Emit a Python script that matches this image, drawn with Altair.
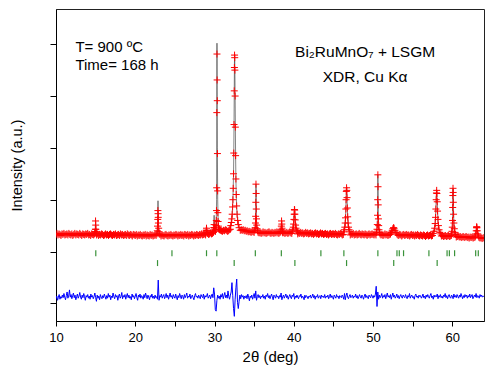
import altair as alt
import pandas as pd

# ---------------- data ----------------
# Observed background (step 0.125 deg), one row per 5 deg, starting at 10, 15, ... 60
BG_STEP = 0.125
bg_rows = [
    [133, 135, 132, 134, 133, 131, 134, 133, 135, 132, 133, 134, 132, 135, 133, 132, 134, 131, 133, 135,
     132, 134, 133, 132, 135, 133, 131, 134, 133, 132, 134, 133, 135, 132, 133, 131, 134, 133, 132, 134],
    [133, 132, 134, 131, 133, 132, 134, 133, 131, 132, 134, 132, 133, 131, 133, 134, 132, 131, 133, 132,
     134, 131, 132, 133, 131, 134, 132, 133, 131, 132, 133, 131, 134, 132, 131, 133, 132, 130, 133, 132],
    [131, 133, 130, 132, 131, 133, 131, 130, 132, 131, 133, 130, 132, 131, 130, 133, 131, 132, 130, 131,
     133, 131, 130, 132, 131, 133, 130, 132, 131, 130, 132, 133, 131, 130, 132, 131, 133, 131, 130, 132],
    [131, 133, 132, 130, 132, 131, 133, 131, 132, 130, 133, 132, 131, 133, 130, 132, 131, 133, 132, 130,
     132, 131, 133, 132, 131, 133, 132, 134, 132, 133, 134, 132, 133, 135, 133, 134, 136, 134, 135, 137],
    [138, 139, 140, 141, 140, 142, 141, 140, 139, 141, 140, 142, 141, 139, 140, 142,
     143, 144, 145, 146, 147, 146, 145, 146, 145, 144, 143, 142, 141, 142, 140, 141,
     139, 140, 138, 139, 138, 137, 139, 138],
    [137, 136, 138, 135, 137, 136, 137, 135, 136, 138, 136, 137, 135, 136, 137, 138, 136, 135, 137, 136,
     135, 137, 136, 138, 136, 135, 137, 136, 138, 136, 137, 135, 136, 137, 135, 136, 138, 136, 135, 137],
    [136, 135, 137, 136, 134, 136, 135, 137, 135, 136, 134, 135, 137, 135, 136, 134, 135, 136, 134, 135,
     133, 135, 136, 134, 135, 133, 134, 136, 134, 135, 133, 134, 135, 133, 134, 132, 134, 135, 133, 134],
    [134, 133, 135, 133, 132, 134, 133, 135, 134, 132, 133, 134, 133, 135, 132, 134, 133, 132, 134, 133,
     135, 132, 133, 134, 132, 133, 135, 133, 132, 134, 133, 132, 134, 133, 131, 133, 134, 132, 133, 134],
    [133, 132, 134, 132, 133, 131, 133, 134, 132, 133, 131, 132, 134, 132, 133, 131, 132, 133, 131, 134,
     132, 133, 131, 132, 134, 132, 131, 133, 132, 130, 132, 133, 131, 132, 133, 131, 132, 130, 132, 133],
    [131, 132, 130, 132, 131, 133, 131, 130, 132, 131, 130, 132, 131, 129, 131, 132, 130, 131, 132, 130,
     131, 129, 131, 132, 130, 131, 129, 130, 132, 130, 131, 129, 130, 131, 129, 130, 131, 129, 130, 131],
    [130, 128, 129, 130, 128, 129, 130, 128, 129, 127, 128, 129, 127, 128, 129, 127, 128, 126, 128, 127,
     128, 126, 127, 128, 126, 127, 125, 127, 126, 127, 125, 126, 127],
]
bg_row_start = [10, 15, 20, 25, 30, 35, 40, 45, 50, 55, 60]

# Observed peaks (2theta, intensity)
p150 = [(14.92, 135), (14.95, 138), (14.97, 143), (14.99, 159), (15.01, 151), (15.03, 143), (15.05, 138), (15.08, 135)]
p229 = [(22.74, 134), (22.78, 140), (22.81, 149), (22.84, 162), (22.86, 179), (22.88, 173), (22.90, 166),
        (22.92, 155), (22.95, 145), (22.98, 138), (23.02, 134)]
p290 = [(28.92, 136), (28.96, 141), (28.99, 145), (29.02, 141), (29.06, 136)]
p300 = [(29.88, 140), (29.92, 146), (29.95, 152), (29.98, 146), (30.02, 143)]
p303 = [(30.16, 143), (30.20, 150), (30.23, 160), (30.25, 179), (30.27, 223), (30.29, 368), (30.31, 481),
        (30.33, 431), (30.35, 391), (30.37, 289), (30.39, 217), (30.42, 175), (30.45, 158), (30.49, 149), (30.55, 143)]
p325 = [(32.05, 150), (32.12, 156), (32.18, 163), (32.23, 172), (32.28, 186), (32.32, 200), (32.36, 222),
        (32.40, 250), (32.43, 290), (32.46, 345), (32.49, 410), (32.51, 455), (32.53, 479), (32.55, 474),
        (32.57, 450), (32.60, 400), (32.63, 340), (32.66, 285), (32.70, 240), (32.74, 210), (32.79, 188),
        (32.85, 172), (32.92, 160), (33.00, 152), (33.10, 146), (33.25, 141)]
p352 = [(35.10, 141), (35.14, 146), (35.17, 155), (35.19, 168), (35.21, 195), (35.23, 230), (35.25, 212),
        (35.27, 182), (35.29, 163), (35.32, 151), (35.36, 144), (35.42, 140)]
p385 = [(38.36, 138), (38.40, 142), (38.43, 149), (38.46, 159), (38.49, 153), (38.52, 145), (38.56, 139), (38.62, 137)]
p401 = [(39.80, 139), (39.88, 142), (39.94, 147), (39.98, 153), (40.02, 162), (40.05, 172), (40.08, 181),
        (40.11, 180), (40.14, 172), (40.18, 161), (40.23, 151), (40.29, 145), (40.37, 141), (40.48, 138)]
p467 = [(46.30, 138), (46.38, 142), (46.44, 147), (46.49, 155), (46.53, 165), (46.57, 182), (46.60, 200),
        (46.63, 216), (46.66, 223), (46.69, 218), (46.72, 204), (46.76, 184), (46.80, 167), (46.85, 155),
        (46.91, 147), (46.98, 142), (47.08, 138)]
p506 = [(50.45, 137), (50.50, 143), (50.54, 152), (50.57, 170), (50.59, 200), (50.61, 248), (50.63, 225),
        (50.65, 190), (50.68, 163), (50.71, 150), (50.75, 142), (50.82, 137)]
p526 = [(52.20, 134), (52.32, 137), (52.42, 141), (52.50, 144), (52.58, 146), (52.66, 145), (52.76, 141),
        (52.88, 137), (53.00, 134)]
p580 = [(57.60, 135), (57.70, 139), (57.78, 145), (57.84, 154), (57.89, 166), (57.93, 182), (57.97, 200),
        (58.00, 213), (58.03, 218), (58.06, 212), (58.10, 196), (58.14, 178), (58.19, 162), (58.25, 150),
        (58.33, 142), (58.43, 137), (58.55, 134)]
p601 = [(59.90, 134), (59.96, 139), (60.00, 147), (60.03, 160), (60.05, 185), (60.07, 208), (60.09, 222),
        (60.11, 214), (60.13, 195), (60.16, 172), (60.20, 155), (60.25, 144), (60.32, 137), (60.42, 133)]
p631 = [(62.90, 130), (62.97, 134), (63.02, 140), (63.06, 146), (63.08, 148), (63.11, 146), (63.15, 140),
        (63.21, 134), (63.30, 130)]

# Calculated profile where it differs visibly from the observed one
c229 = [(22.74, 134), (22.80, 145), (22.84, 165), (22.87, 198), (22.90, 165), (22.94, 146), (23.02, 134)]
c300 = [(29.88, 141), (29.92, 152), (29.95, 170), (29.98, 150), (30.02, 143)]
c303 = [(30.16, 143), (30.22, 158), (30.26, 200), (30.29, 400), (30.31, 502), (30.33, 420), (30.36, 300),
        (30.40, 200), (30.46, 158), (30.55, 143)]

# Difference curve (step 0.1 deg), one row per 2 deg, starting at 10, 12, ... 62, then 64
DIFF_STEP = 0.1
diff_rows = [
    [9, 14, 6, 12, 17, 8, 13, 10, 16, 11, 19, 12, 7, 15, 22, 10, 14, 26, 12, 17],
    [9, 15, 20, 11, 16, 7, 13, 18, 10, 14, 21, 12, 8, 16, 11, 19, 13, 6, 15, 12],
    [17, 10, 14, 8, 18, 12, 15, 9, 13, 20, 11, 4, 16, 10, 14, 7, 17, 12, 9, 15],
    [11, 18, 13, 8, 15, 10, 19, 12, 16, 7, 14, 11, 20, 13, 9, 17, 12, 15, 6, 14],
    [18, 10, 13, 21, 9, 15, 12, 17, 8, 14, 19, 11, 16, 10, 13, 7, 18, 12, 15, 9],
    [14, 19, 11, 6, 16, 12, 18, 10, 15, 13, 8, 17, 11, 20, 14, 9, 16, 12, 7, 15],
    [12, 18, 10, 14, 9, 16, 11, 13, 8, 45, 6, 15, 12, 18, 10, 14, 17, 9, 13, 19],
    [11, 16, 8, 14, 20, 12, 15, 9, 17, 13, 10, 18, 12, 7, 15, 11, 19, 14, 9, 16],
    [13, 8, 17, 11, 15, 20, 10, 14, 12, 18, 9, 13, 16, 11, 7, 15, 19, 12, 14, 10],
    [16, 12, 9, 17, 13, 11, 18, 8, 15, 12, 14, 19, 10, 13, 16, 9, 14, 18, 11, 30],
    [18, -12, -15, 6, 16, 10, 14, 8, 17, 12, 19, 9, 15, 21, 11, 16, 10, 24, 13, 8],
    [16, 22, 40, 15, -10, -25, 8, 30, 47, 2, -10, 4, 16, 9, 17, 12, 15, 8, 14, 11],
    [15, 9, 18, 12, 5, 14, 11, 16, 8, 13, 19, 10, 24, 6, 13, 17, 11, 15, 9, 14],
    [12, 17, 10, 14, 8, 16, 13, 19, 11, 15, 9, 14, 18, 12, 7, 16, 13, 10, 17, 12],
    [14, 9, 15, 12, 20, 7, 13, 16, 10, 14, 18, 11, 15, 8, 13, 17, 12, 9, 16, 13],
    [19, 8, 14, 11, 16, 12, 9, 15, 13, 18, 10, 14, 12, 7, 16, 11, 15, 13, 9, 14],
    [12, 16, 10, 13, 18, 11, 15, 8, 14, 12, 17, 10, 13, 15, 9, 16, 12, 14, 11, 17],
    [10, 14, 12, 16, 9, 13, 18, 11, 15, 12, 8, 16, 13, 10, 17, 12, 14, 9, 15, 13],
    [11, 16, 13, 8, 19, 7, 15, 20, 12, 9, 14, 17, 11, 13, 16, 10, 14, 12, 18, 11],
    [15, 9, 13, 17, 12, 10, 16, 13, 8, 14, 18, 11, 15, 12, 9, 16, 13, 11, 17, 14],
    [10, 15, 12, 18, 33, -6, 22, 8, 16, 11, 14, 19, 10, 15, 12, 17, 9, 14, 20, 12],
    [15, 11, 17, 8, 14, 20, 12, 16, 10, 13, 18, 11, 15, 9, 14, 17, 12, 10, 16, 13],
    [11, 17, 13, 9, 15, 12, 19, 10, 14, 16, 11, 13, 8, 15, 18, 12, 14, 10, 16, 13],
    [15, 10, 13, 18, 11, 14, 9, 16, 12, 17, 13, 10, 15, 19, 11, 14, 8, 16, 12, 15],
    [13, 18, 9, 15, 12, 17, 11, 14, 10, 16, 13, 19, 11, 15, 9, 14, 17, 12, 10, 16],
    [14, 9, 18, 12, 15, 11, 17, 13, 10, 16, 12, 19, 14, 9, 15, 11, 17, 13, 16, 10],
    [15, 12, 18, 11, 14, 17, 9, 13, 16, 12, 19, 11, 15, 14, 10, 17, 13, 16, 12, 14],
    [13],
]
diff_row_start = [10, 12, 14, 16, 18, 20, 22, 24, 26, 28, 30, 32, 34, 36, 38, 40, 42, 44, 46, 48,
                  50, 52, 54, 56, 58, 60, 62, 64]

# Bragg reflection markers
phase1_ticks = [15.02, 24.63, 28.99, 30.29, 35.15, 38.43, 43.42, 46.32, 50.61, 53.02, 53.31, 53.85,
                57.05, 59.34, 59.63, 60.29, 62.95, 63.28]
phase2_ticks = [22.81, 32.48, 40.14, 46.66, 52.61, 58.09]
tick_rows = {"p1": (91, 102.5), "p2": (72, 83.5)}

# Annotations
notes_left = [("T= 900 ºC", 12.45, 485.5), ("Time= 168 h", 12.45, 449.5)]
notes_center = [("Bi₂RuMnO₇ + LSGM", 49.0, 475.0), ("XDR, Cu Kα", 49.0, 427.7)]

# ---------------- tables ----------------
obs_peaks = [p150, p229, p290, p300, p303, p325, p352, p385, p401, p467, p506, p526, p580, p601, p631]
calc_peaks = [p150, c229, p290, c300, c303, p325, p352, p385, p401, p467, p506, p526, p580, p601, p631]
windows = [(min(p)[0], max(p)[0]) for p in obs_peaks]

bg_pts = []
for start, row in zip(bg_row_start, bg_rows):
    for i, v in enumerate(row):
        x = round(start + i * BG_STEP, 4)
        if x <= 64 and not any(lo <= x <= hi for lo, hi in windows):
            bg_pts.append((x, v))

obs_pts = sorted(bg_pts + [pt for p in obs_peaks for pt in p])
calc_pts = sorted(bg_pts + [pt for p in calc_peaks for pt in p])
obs_df = pd.DataFrame(obs_pts, columns=["x", "y"])
calc_df = pd.DataFrame(calc_pts, columns=["x", "y"])

diff_pts = []
for start, row in zip(diff_row_start, diff_rows):
    for i, v in enumerate(row):
        diff_pts.append((round(start + i * DIFF_STEP, 3), v))
diff_df = pd.DataFrame(diff_pts, columns=["x", "y"])

tick_df = pd.DataFrame(
    [(x, tick_rows["p1"][0], tick_rows["p1"][1]) for x in phase1_ticks]
    + [(x, tick_rows["p2"][0], tick_rows["p2"][1]) for x in phase2_ticks],
    columns=["x", "y", "y2"],
)
left_df = pd.DataFrame(notes_left, columns=["t", "x", "y"])
center_df = pd.DataFrame(notes_center, columns=["t", "x", "y"])

# ---------------- chart ----------------
FONT = "Liberation Sans"
xscale = alt.Scale(domain=[10, 64], nice=False, zero=False)
yscale = alt.Scale(domain=[-34, 567.9], nice=False, zero=False)
xaxis = alt.Axis(
    title="2θ (deg)", values=[10, 15, 20, 25, 30, 35, 40, 45, 50, 55, 60],
    labelExpr="datum.value % 10 === 0 ? datum.label : ''",
    grid=False, tickSize=5, labelPadding=5, labelFlush=False, labelOverlap=False,
    labelFont=FONT, labelFontSize=13, labelColor="black",
    titleFont=FONT, titleFontSize=15, titleFontWeight="normal", titleColor="black",
    titleY=40, titleBaseline="alphabetic", tickColor="black", domainColor="black",
)
yaxis = alt.Axis(
    title="Intensity (a.u.)", values=[0, 100, 200, 300, 400, 500], labels=False,
    grid=False, tickSize=6, tickColor="black", domainColor="black",
    titleFont=FONT, titleFontSize=14.5, titleFontWeight="normal", titleColor="black",
    titleX=-35, titleY=156, titleBaseline="alphabetic",
)
X = alt.X("x:Q", scale=xscale, axis=xaxis)
Y = alt.Y("y:Q", scale=yscale, axis=yaxis)

diff = alt.Chart(diff_df).mark_line(color="#0000ff", strokeWidth=1, clip=True).encode(x=X, y=Y)
ticks = alt.Chart(tick_df).mark_rule(color="#3a923a", strokeWidth=1.2).encode(x=X, y=Y, y2="y2:Q")
calc = alt.Chart(calc_df).mark_line(color="#333333", strokeWidth=0.6, clip=True).encode(x=X, y=Y)
obs = alt.Chart(obs_df).mark_point(
    shape="M-1,0L1,0M0,-1L0,1", filled=False, stroke="#ff0000", strokeWidth=1,
    size=49, opacity=1, clip=True,
).encode(x=X, y=Y)
txt_l = alt.Chart(left_df).mark_text(
    align="left", baseline="alphabetic", font=FONT, fontSize=15, color="black"
).encode(x=X, y=Y, text="t:N")
txt_c = alt.Chart(center_df).mark_text(
    align="center", baseline="alphabetic", font=FONT, fontSize=15.5, color="black"
).encode(x=X, y=Y, text="t:N")

chart = (
    alt.layer(diff, ticks, calc, obs, txt_l, txt_c)
    .properties(
        width=428, height=312,
        autosize=alt.AutoSizeParams(type="none"),
        padding={"left": 48, "top": 1, "right": 1, "bottom": 44},
    )
    .configure_view(stroke="#222222", strokeWidth=1)
)

chart.save("out.html", embed_options={"renderer": "svg", "actions": False})
